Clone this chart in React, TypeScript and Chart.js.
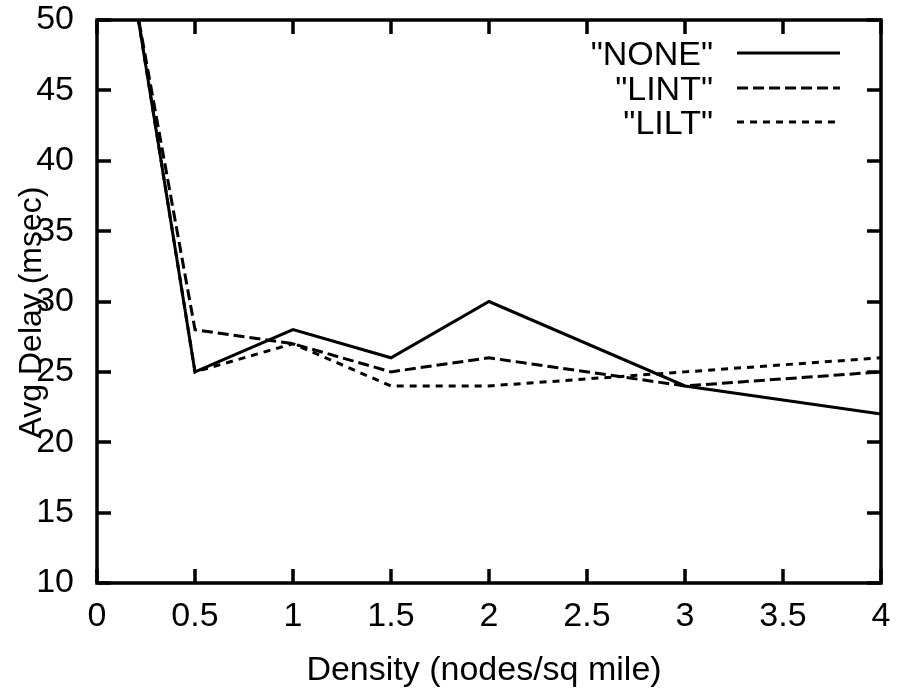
import React, { useEffect, useRef } from "react";
import { Chart, registerables } from "chart.js";

Chart.register(...registerables);

const density = [0.2, 0.5, 1, 1.5, 2, 3, 4];
const noneDelay = [51, 25, 28, 26, 30, 24, 22];
const lintDelay = [51, 28, 27, 25, 26, 24, 25];
const liltDelay = [51, 25, 27, 24, 24, 25, 26];

const seriesNames = ['"NONE"', '"LINT"', '"LILT"'];
const seriesDashes: number[][] = [[], [11, 5], [7, 6]];

const xTicks = [0, 0.5, 1, 1.5, 2, 2.5, 3, 3.5, 4];
const yTicks = [10, 15, 20, 25, 30, 35, 40, 45, 50];

const xTitle = "Density (nodes/sq mile)";
const yTitle = "Avg Delay (msec)";

const FONT = '"Liberation Sans", Arial, Helvetica, sans-serif';
const FONT_SIZE = 34;

const framePlugin = {
  id: "gnuplotFrame",
  afterDraw(chart: any) {
    const { ctx, chartArea } = chart;
    const { left, right, top, bottom } = chartArea;
    const xs = chart.scales.x;
    const ys = chart.scales.y;
    ctx.save();
    ctx.strokeStyle = "#000";
    ctx.lineWidth = 3.5;
    ctx.lineCap = "butt";
    const tl = 14;
    ctx.beginPath();
    xTicks.forEach((v) => {
      const px = Math.round(xs.getPixelForValue(v));
      ctx.moveTo(px, bottom);
      ctx.lineTo(px, bottom - tl);
      ctx.moveTo(px, top);
      ctx.lineTo(px, top + tl);
    });
    yTicks.forEach((v) => {
      const py = Math.round(ys.getPixelForValue(v));
      ctx.moveTo(left, py);
      ctx.lineTo(left + tl, py);
      ctx.moveTo(right, py);
      ctx.lineTo(right - tl, py);
    });
    ctx.stroke();
    ctx.lineWidth = 3.5;
    ctx.strokeRect(left, top, right - left, bottom - top);

    // legend
    ctx.font = `${FONT_SIZE}px ${FONT}`;
    ctx.fillStyle = "#000";
    ctx.textAlign = "right";
    ctx.textBaseline = "alphabetic";
    const rowY = [top + 33, top + 68, top + 102];
    seriesNames.forEach((name, i) => {
      const y = rowY[i];
      ctx.fillText(name, right - 168, y + 12);
      ctx.save();
      ctx.lineWidth = 3;
      ctx.setLineDash(seriesDashes[i]);
      ctx.beginPath();
      ctx.moveTo(right - 144, y);
      ctx.lineTo(right - 41, y);
      ctx.stroke();
      ctx.restore();
    });

    // axis titles
    ctx.textAlign = "center";
    ctx.textBaseline = "alphabetic";
    ctx.fillText(xTitle, (left + right) / 2 - 5, 680);
    ctx.save();
    ctx.font = `32px ${FONT}`;
    ctx.translate(41, (top + bottom) / 2 + 11);
    ctx.rotate(-Math.PI / 2);
    ctx.fillText(yTitle, 0, 0);
    ctx.restore();
    ctx.restore();
  },
};

export default function App() {
  const ref = useRef<HTMLCanvasElement | null>(null);
  useEffect(() => {
    document.body.style.margin = "0";
    const canvas = ref.current;
    if (!canvas) return;
    const mk = (ys: number[]) => density.map((x, i) => ({ x, y: ys[i] }));
    const chart = new Chart(canvas, {
      type: "line",
      data: {
        datasets: [noneDelay, lintDelay, liltDelay].map((d, i) => ({
          label: seriesNames[i],
          data: mk(d),
          borderColor: "#000",
          backgroundColor: "#000",
          borderWidth: 3,
          borderDash: seriesDashes[i],
          pointRadius: 0,
          tension: 0,
          fill: false,
        })),
      },
      options: {
        animation: false,
        responsive: false,
        devicePixelRatio: 1,
        layout: { padding: { top: 20, right: 23, left: 0, bottom: 0 } },
        plugins: { legend: { display: false }, tooltip: { enabled: false } },
        scales: {
          x: {
            type: "linear",
            min: 0,
            max: 4,
            grid: { display: false, drawTicks: false },
            border: { display: false },
            afterBuildTicks: (s: any) => {
              s.ticks = xTicks.map((v) => ({ value: v }));
            },
            afterFit: (s: any) => {
              s.height = 106;
              s.paddingLeft = 0;
              s.paddingRight = 0;
            },
            ticks: {
              autoSkip: false,
              maxRotation: 0,
              padding: 13,
              color: "#000",
              font: { family: FONT, size: FONT_SIZE },
              callback: (v: any) => String(v),
            },
          },
          y: {
            type: "linear",
            min: 10,
            max: 50,
            grid: { display: false, drawTicks: false },
            border: { display: false },
            afterBuildTicks: (s: any) => {
              s.ticks = yTicks.map((v) => ({ value: v }));
            },
            afterFit: (s: any) => {
              s.width = 97;
              s.paddingTop = 0;
              s.paddingBottom = 0;
            },
            ticks: {
              autoSkip: false,
              padding: 23,
              color: "#000",
              font: { family: FONT, size: FONT_SIZE },
              callback: (v: any) => String(v),
            },
          },
        },
      },
      plugins: [framePlugin],
    });
    return () => chart.destroy();
  }, []);
  return (
    <div style={{ position: "fixed", left: 0, top: 0, width: 904, height: 689, background: "#fff" }}>
      <canvas ref={ref} width={904} height={689} style={{ width: 904, height: 689, display: "block" }} />
    </div>
  );
}
